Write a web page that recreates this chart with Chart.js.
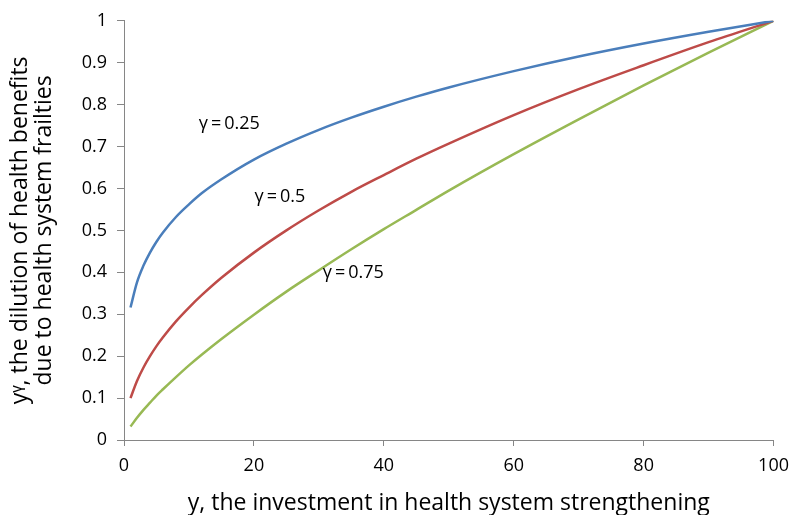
<!DOCTYPE html>
<html>
<head>
<meta charset="utf-8">
<script src="https://cdn.jsdelivr.net/npm/chart.js@4.4.0/dist/chart.umd.min.js"></script>
<style>
  html, body { margin: 0; padding: 0; background: #fff; }
  #wrap { width: 798px; height: 515px; }
</style>
</head>
<body>
<div id="wrap"><canvas id="chart"></canvas></div>
<script>
// valeurs
const xs = [1, 2, 3, 4, 5, 6, 8, 10, 12, 15, 20, 25, 30, 35, 40, 45, 50, 60, 70, 80, 90, 100];
const g025 = [0.316, 0.376, 0.416, 0.447, 0.473, 0.495, 0.532, 0.562, 0.589, 0.622, 0.669, 0.707, 0.740, 0.769, 0.795, 0.819, 0.841, 0.880, 0.915, 0.946, 0.974, 1];
const g050 = [0.100, 0.141, 0.173, 0.200, 0.224, 0.245, 0.283, 0.316, 0.346, 0.387, 0.447, 0.500, 0.548, 0.592, 0.632, 0.671, 0.707, 0.775, 0.837, 0.894, 0.949, 1];
const g075 = [0.032, 0.053, 0.072, 0.089, 0.106, 0.121, 0.150, 0.178, 0.204, 0.241, 0.299, 0.354, 0.405, 0.455, 0.503, 0.549, 0.595, 0.682, 0.765, 0.846, 0.924, 1];

const seriesNames = ['γ\u2009=\u20090.25', 'γ\u2009=\u20090.5', 'γ\u2009=\u20090.75'];
const COLORS = ['#4A7EBB', '#BE4B48', '#98B954'];
// position des étiquettes (en coordonnées de données)
const labelX = [16.2, 24.0, 35.3];
const labelY = [0.753, 0.58, 0.398];

const FONT = '"Open Sans", sans-serif';

const pts = arr => xs.map((x, i) => ({ x, y: arr[i] }));

const curveLabels = {
  id: 'curveLabels',
  afterDatasetsDraw(chart) {
    const { ctx, scales: { x, y } } = chart;
    ctx.save();
    ctx.fillStyle = '#000';
    ctx.font = '18px ' + FONT;
    ctx.textAlign = 'center';
    ctx.textBaseline = 'middle';
    seriesNames.forEach((name, i) => {
      ctx.fillText(name, x.getPixelForValue(labelX[i]), y.getPixelForValue(labelY[i]));
    });
    ctx.restore();
  }
};

new Chart(document.getElementById('chart'), {
  type: 'scatter',
  data: {
    datasets: [g025, g050, g075].map((arr, i) => ({
      label: seriesNames[i],
      data: pts(arr),
      showLine: true,
      borderColor: COLORS[i],
      backgroundColor: COLORS[i],
      borderWidth: 2.5,
      pointRadius: 0,
      cubicInterpolationMode: 'monotone',
    })),
  },
  options: {
    responsive: true, maintainAspectRatio: false, animation: false,
    layout: { padding: { top: 17, right: 6, left: 2, bottom: 0 } },
    plugins: { legend: { display: false }, tooltip: { enabled: false } },
    scales: {
      x: {
        type: 'linear', min: 0, max: 100,
        ticks: { stepSize: 20, color: '#000', font: { family: FONT, size: 18 }, padding: 9 },
        grid: { drawOnChartArea: false, drawTicks: true, tickLength: 6, color: '#868686' },
        border: { color: '#868686' },
        title: { display: true, text: 'y, the investment in health system strengthening',
                 color: '#000', font: { family: FONT, size: 23 }, padding: { top: 0, bottom: -2 } },
        afterFit(s) { s.height = 75; },
      },
      y: {
        min: 0, max: 1,
        ticks: { stepSize: 0.1, color: '#000', font: { family: FONT, size: 18 }, padding: 10,
                 callback: v => String(Number(v.toFixed(1))) },
        grid: { drawOnChartArea: false, drawTicks: true, tickLength: 7, color: '#868686' },
        border: { color: '#868686' },
        title: { display: true, text: ['yᵞ, the dilution of health benefits', 'due to health system frailties'],
                 color: '#000', font: { family: FONT, size: 23, lineHeight: 1.06 }, padding: { top: 6, bottom: 0 } },
        afterFit(s) { s.width = 122; },
      },
    },
  },
  plugins: [curveLabels],
});
</script>
</body>
</html>
